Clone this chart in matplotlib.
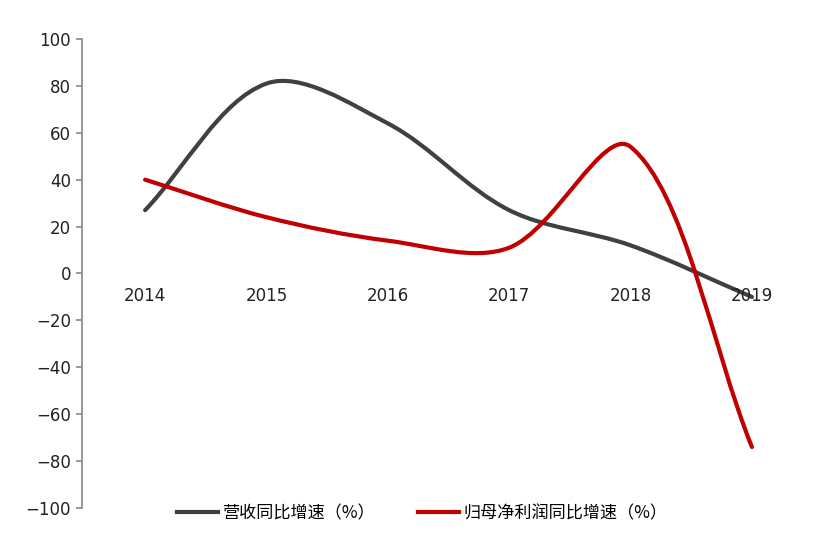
import numpy as np
import matplotlib
matplotlib.use("Agg")
from matplotlib import pyplot as plt
from matplotlib.path import Path
from matplotlib.patches import PathPatch
from matplotlib.lines import Line2D

plt.rcParams['font.family'] = ['DejaVu Sans', 'Noto Sans CJK SC']

years = ['2014', '2015', '2016', '2017', '2018', '2019']
revenue_growth = [27, 81, 64, 27, 12, -10]
profit_growth = [40, 24, 14, 11, 54, -74]
labels = ['营收同比增速（%）', '归母净利润同比增速（%）']
colors = ['#404040', '#c00000']


def smooth_path(ax, xs, ys, s=1 / 3):
    # bezier through the points, handle length weighted by on-screen segment length
    pts = np.column_stack([xs, ys]).astype(float)
    disp = ax.transData.transform(pts)
    n = len(pts)
    cp_in = [None] * n
    cp_out = [None] * n
    for i in range(n):
        ip = max(i - 1, 0)
        inx = min(i + 1, n - 1)
        v = pts[inx] - pts[ip]
        lp = np.hypot(*(disp[i] - disp[ip]))
        ln = np.hypot(*(disp[inx] - disp[i]))
        tot = lp + ln if lp + ln > 0 else 1.0
        cp_in[i] = pts[i] - v * s * lp / tot
        cp_out[i] = pts[i] + v * s * ln / tot
    verts = [pts[0]]
    codes = [Path.MOVETO]
    for i in range(n - 1):
        verts += [cp_out[i], cp_in[i + 1], pts[i + 1]]
        codes += [Path.CURVE4] * 3
    return Path(verts, codes)


fig = plt.figure(figsize=(8.2, 5.56), dpi=100)
ax = fig.add_axes([0.1, 0.0863, 0.891, 0.8436])
ax.set_xlim(-0.52, 5.5)
ax.set_ylim(-100, 100)

x = np.arange(len(years))
for vals, col in zip([revenue_growth, profit_growth], colors):
    patch = PathPatch(smooth_path(ax, x, vals), facecolor='none', edgecolor=col,
                      lw=3, capstyle='round', joinstyle='round')
    ax.add_patch(patch)

ax.set_yticks(range(-100, 101, 20))
ax.set_xticks(x)
ax.set_xticklabels(years)

for sp in ['top', 'right']:
    ax.spines[sp].set_visible(False)
ax.spines['bottom'].set_position(('data', 0))
ax.spines['bottom'].set_visible(False)
ax.spines['left'].set_color('#888888')
ax.spines['left'].set_linewidth(1.2)
ax.tick_params(axis='x', length=0, pad=10, labelsize=12, colors='#222222')
ax.tick_params(axis='y', length=4.5, width=1.2, color='#888888', pad=3.5,
               labelsize=12, labelcolor='#222222')

handles = [Line2D([], [], color=c, lw=3) for c in colors]
fig.legend(handles, labels, loc='center', bbox_to_anchor=(0.515, 0.0773),
           ncol=2, frameon=False, handlelength=2.4, columnspacing=2.5,
           handletextpad=0.29, prop={'family': 'Noto Sans CJK SC', 'size': 12.3})

fig.savefig('out.png', dpi=100)
